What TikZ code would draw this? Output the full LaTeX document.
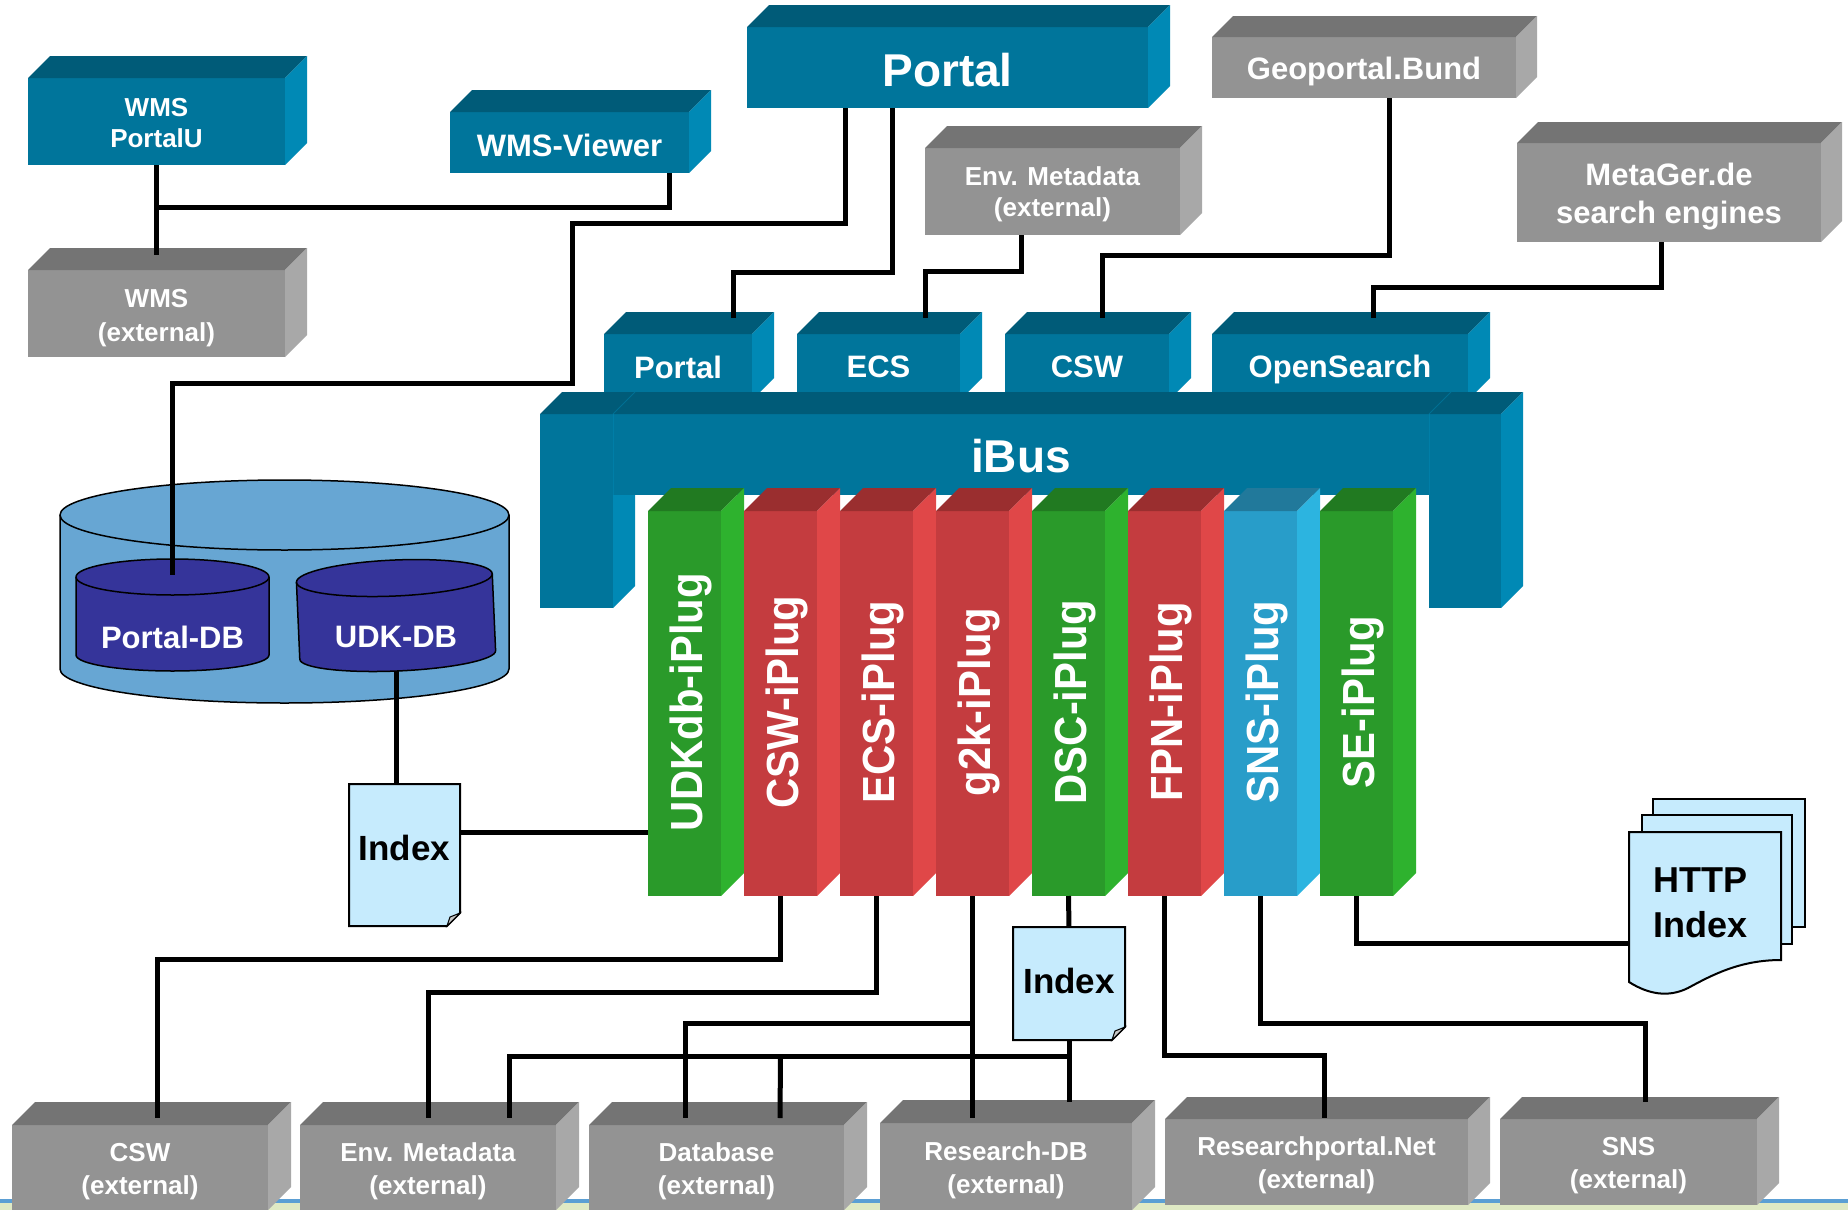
\documentclass[tikz,border=0pt]{standalone}
\usepackage{fontspec}
\setmainfont{Liberation Sans}
\usepackage{graphicx}
\usetikzlibrary{calc}
\definecolor{frontB}{HTML}{00759B}
\definecolor{topB}{HTML}{005B78}
\definecolor{sideB}{HTML}{0089B5}
\definecolor{frontG}{HTML}{939393}
\definecolor{topG}{HTML}{747474}
\definecolor{sideG}{HTML}{A8A8A8}
\definecolor{frontN}{HTML}{2A9A2A}
\definecolor{topN}{HTML}{217A21}
\definecolor{sideN}{HTML}{2EB22E}
\definecolor{frontR}{HTML}{C43C3F}
\definecolor{topR}{HTML}{9A2E2F}
\definecolor{sideR}{HTML}{E04748}
\definecolor{frontS}{HTML}{289DC9}
\definecolor{topS}{HTML}{21799B}
\definecolor{sideS}{HTML}{2CB4E0}
\definecolor{cylbig}{HTML}{67A6D3}
\definecolor{cylsmall}{HTML}{35349A}
\definecolor{docfill}{HTML}{C6EBFD}
\definecolor{stripblue}{HTML}{5B9FD4}
\definecolor{stripgreen}{HTML}{DFE9C4}
\newcommand\fsz[2]{\fontsize{#1}{#2}\selectfont}
\newcommand\faces[3]{%
  \fill[top#3] (#1.north west) -- ++(#2,-#2) -- ($(#1.north east)+(#2,-#2)$) -- (#1.north east) -- cycle;
  \fill[side#3] (#1.north east) -- ++(#2,-#2) -- ($(#1.south east)+(#2,-#2)$) -- (#1.south east) -- cycle;}
\begin{document}
\begin{tikzpicture}[x=1pt,y=-1pt,
  face/.style={anchor=north west, inner sep=0pt, outer sep=0pt},
  ftxt/.style={text=white, align=center, inner sep=0pt},
  conn/.style={line width=5pt, line join=miter, draw=black},
  docst/.style={fill=docfill, draw=black, line width=2pt, line join=miter},
  foldst/.style={fill=gray!45, draw=black, line width=1pt},
  cylst/.style={draw=black, line width=1.5pt},
  lbl/.style={text=white, font=\bfseries\fsz{31}{37}}]
\useasboundingbox (0,0) rectangle (1848,1210);
\fill[white] (0,0) rectangle (1848,1210);
% bottom strip
\fill[stripblue] (0,1199) rectangle (1848,1203);
\fill[stripgreen] (0,1203) rectangle (1848,1210);

% ---- top boxes
\node[face, fill=frontB, minimum width=257, minimum height=87] (wmsp) at (28,78) {};
\faces{wmsp}{22}{B}
\node[ftxt, font=\bfseries\fsz{26}{31}, yshift=-2pt] at (wmsp) {WMS\\PortalU};
\node[face, fill=frontG, minimum width=257, minimum height=87] (wmse) at (28,270) {};
\faces{wmse}{22}{G}
\node[ftxt, font=\bfseries\fsz{26}{34}, yshift=-4.5pt] at (wmse) {WMS\\(external)};
\node[face, fill=frontB, minimum width=239, minimum height=61] (wmsv) at (450,112) {};
\faces{wmsv}{22}{B}
\node[ftxt, font=\bfseries\fsz{31}{37}, yshift=-2.5pt] at (wmsv) {WMS-Viewer};
\node[face, fill=frontB, minimum width=401, minimum height=81] (portal) at (747,27) {};
\faces{portal}{22}{B}
\node[ftxt, font=\bfseries\fsz{46}{55}, yshift=-2.5pt] at (portal) {Portal};
\node[face, fill=frontG, minimum width=304, minimum height=61] (geo) at (1212,37) {};
\faces{geo}{21}{G}
\node[ftxt, font=\bfseries\fsz{31}{37}, yshift=-3.5pt] at (geo) {Geoportal.Bund};
\node[face, fill=frontG, minimum width=255, minimum height=87] (envtop) at (925,148) {};
\faces{envtop}{22}{G}
\node[ftxt, font=\bfseries\fsz{26}{31}, yshift=-3pt] at (envtop) {Env. Metadata\\(external)};
\node[face, fill=frontG, minimum width=304, minimum height=99] (metager) at (1517,143) {};
\faces{metager}{21}{G}
\node[ftxt, font=\bfseries\fsz{31}{38}, yshift=-4pt] at (metager) {MetaGer.de\\search engines};

% ---- interface boxes above iBus
\node[face, fill=frontB, minimum width=148, minimum height=66] (sportal) at (604,334) {};
\faces{sportal}{22}{B}
\node[ftxt, font=\bfseries\fsz{31}{37}] at (sportal) {Portal};
\node[face, fill=frontB, minimum width=163, minimum height=66] (secs) at (797,334) {};
\faces{secs}{22}{B}
\node[ftxt, font=\bfseries\fsz{31}{37}] at (secs) {ECS};
\node[face, fill=frontB, minimum width=164, minimum height=66] (scsw) at (1005,334) {};
\faces{scsw}{22}{B}
\node[ftxt, font=\bfseries\fsz{31}{37}] at (scsw) {CSW};
\node[face, fill=frontB, minimum width=256, minimum height=66] (sopen) at (1212,334) {};
\faces{sopen}{22}{B}
\node[ftxt, font=\bfseries\fsz{31}{37}, yshift=-2pt] at (sopen) {OpenSearch};

% ---- iBus
\node[face, fill=frontB, minimum width=816, minimum height=81] (ibus) at (613,414) {};
\node[face, fill=frontB, minimum width=73, minimum height=194] (legl) at (540,414) {};
\node[face, fill=frontB, minimum width=72, minimum height=194] (legr) at (1429,414) {};
\fill[topB] (legl.north west) -- ++(22,-22) -- ($(legr.north east)+(22,-22)$) -- (legr.north east) -- cycle;
\fill[sideB] (legr.north east) -- ++(22,-22) -- ($(legr.south east)+(22,-22)$) -- (legr.south east) -- cycle;
\fill[sideB] (legl.east |- ibus.south) -- ++(22,0) -- ($(legl.south east)+(22,-22)$) -- (legl.south east) -- cycle;
\draw[line width=1pt, color=sideB!45!frontB] (legl.north east) -- (legl.east |- ibus.south);
\draw[line width=1pt, color=sideB!45!topB] (legl.north east) -- ++(22,-22);
\draw[line width=1pt, color=sideB!45!frontB] (legr.north west) -- (legr.west |- ibus.south);
\draw[line width=1pt, color=sideB!45!topB] (legr.north west) -- ++(22,-22);
\node[ftxt, font=\bfseries\fsz{46}{55}, yshift=-2pt] at (ibus) {iBus};

% ---- iPlugs
\foreach \i/\c/\t in {1/N/UDKdb-iPlug, 2/R/CSW-iPlug, 3/R/ECS-iPlug, 4/R/g2k-iPlug,
                       5/N/DSC-iPlug, 6/R/FPN-iPlug, 7/S/SNS-iPlug, 8/N/SE-iPlug}{
  \pgfmathsetmacro\xo{648+96*(\i-1)}
  \node[face, fill=front\c, minimum width=73, minimum height=385] (p\i) at (\xo,511) {};
  \faces{p\i}{23}{\c}
  \node[rotate=90, anchor=base, text=white, inner sep=0pt, font=\bfseries\fsz{45}{54}]
     (t\i) at ($(p\i.north west)+(54,191)$) {\scalebox{0.93}[1]{\t}};
}

% ---- database cylinders
\filldraw[cylst, fill=cylbig] (60,515) -- (60,669)
   arc[start angle=180, end angle=360, x radius=224.5pt, y radius=34pt] -- (509,515)
   arc[start angle=0, end angle=180, x radius=224.5pt, y radius=35pt] -- cycle;
\draw[cylst] (60,515) arc[start angle=180, end angle=360, x radius=224.5pt, y radius=35pt];
\filldraw[cylst, fill=cylsmall] (76,577) -- (76,655)
   arc[start angle=180, end angle=360, x radius=96.5pt, y radius=16pt] -- (269,577)
   arc[start angle=0, end angle=180, x radius=96.5pt, y radius=18pt] -- cycle;
\draw[cylst] (76,577) arc[start angle=180, end angle=360, x radius=96.5pt, y radius=18pt];
\begin{scope}[rotate around={2.5:(396,616)}]
\filldraw[cylst, fill=cylsmall] (298,578) -- (298,655)
   arc[start angle=180, end angle=360, x radius=98pt, y radius=16pt] -- (494,578)
   arc[start angle=0, end angle=180, x radius=98pt, y radius=18pt] -- cycle;
\draw[cylst] (298,578) arc[start angle=180, end angle=360, x radius=98pt, y radius=18pt];
\end{scope}
\node[lbl] (pdb) at (172.5,637) {Portal-DB};
\node[lbl] (udk) at (396,637) {UDK-DB};
\coordinate (pdbtop) at (172.5,575);
\coordinate (udkbot) at (396,671);

% ---- index documents
\node[face, minimum width=111, minimum height=142] (idx1) at (349,784) {};
\filldraw[docst] (idx1.north west) -- (idx1.north east) -- ($(idx1.south east)+(0,-13)$)
   -- ($(idx1.south east)+(-13,0)$) -- (idx1.south west) -- cycle;
\filldraw[foldst] ($(idx1.south east)+(0,-13)$) -- ($(idx1.south east)+(-10,-9)$) -- ($(idx1.south east)+(-13,0)$) -- cycle;
\node[font=\bfseries\fsz{35}{42}] at ($(idx1.center)+(0,-7)$) {Index};

\node[face, minimum width=112, minimum height=113] (idx2) at (1013,927) {};
\filldraw[docst] (idx2.north west) -- (idx2.north east) -- ($(idx2.south east)+(0,-13)$)
   -- ($(idx2.south east)+(-13,0)$) -- (idx2.south west) -- cycle;
\filldraw[foldst] ($(idx2.south east)+(0,-13)$) -- ($(idx2.south east)+(-10,-9)$) -- ($(idx2.south east)+(-13,0)$) -- cycle;
\node[font=\bfseries\fsz{35}{42}] at ($(idx2.center)+(0,-3)$) {Index};

\filldraw[docst] (1653,799) rectangle (1805,927);
\filldraw[docst] (1642,815) rectangle (1792,944);
\node[face, minimum width=152, minimum height=128] (httpidx) at (1629,832) {};
\filldraw[docst] (httpidx.south west) -- (httpidx.north west) -- (httpidx.north east) -- (httpidx.south east)
   .. controls (1740,960) and (1712,975) .. (1688,988)
   .. controls (1668,998) and (1648,994) .. (1629,982) -- cycle;
\node[font=\bfseries\fsz{36}{45}, align=center] at ($(httpidx.center)+(-5,7)$) {HTTP\\Index};

% ---- bottom external boxes
\node[face, fill=frontG, minimum width=256, minimum height=85] (bcsw) at (12,1125) {};
\faces{bcsw}{23}{G}
\node[ftxt, font=\bfseries\fsz{26}{33}, yshift=-4pt] at (bcsw) {CSW\\(external)};
\node[face, fill=frontG, minimum width=256, minimum height=85] (benv) at (300,1125) {};
\faces{benv}{23}{G}
\node[ftxt, font=\bfseries\fsz{26}{33}, yshift=-4pt] at (benv) {Env. Metadata\\(external)};
\node[face, fill=frontG, minimum width=255, minimum height=85] (bdb) at (589,1125) {};
\faces{bdb}{23}{G}
\node[ftxt, font=\bfseries\fsz{26}{33}, yshift=-4pt] at (bdb) {Database\\(external)};
\node[face, fill=frontG, minimum width=252, minimum height=87] (brdb) at (880,1123) {};
\faces{brdb}{23}{G}
\node[ftxt, font=\bfseries\fsz{26}{33}, yshift=-4pt] at (brdb) {Research-DB\\(external)};
\node[face, fill=frontG, minimum width=303, minimum height=86] (brp) at (1165,1119) {};
\faces{brp}{22}{G}
\node[ftxt, font=\bfseries\fsz{26}{33}, yshift=-3.5pt] at (brp) {Researchportal.Net\\(external)};
\node[face, fill=frontG, minimum width=257, minimum height=86] (bsns) at (1500,1119) {};
\faces{bsns}{22}{G}
\node[ftxt, font=\bfseries\fsz{26}{33}, yshift=-3.5pt] at (bsns) {SNS\\(external)};

% ---- connectors
\draw[conn] (wmsp.south) -- ($(wmse.north)+(0,-15)$);
\draw[conn] (wmsp.south) ++(0,42) -| ($(wmsv.south east)+(-20,0)$);
\draw[conn] ($(portal.south west)+(98,0)$) |- (572,223) |- (172.5,383) -- (pdbtop);
\draw[conn] ($(portal.south west)+(145,0)$) |- (733,272) -- ($(sportal.north west)+(129,-16)$);
\draw[conn] ($(envtop.south west)+(96,0)$) |- (925,271) -- ($(secs.north west)+(128,-16)$);
\draw[conn] ($(geo.south west)+(177,0)$) |- (1102,255) -- ($(scsw.north west)+(97,-16)$);
\draw[conn] ($(metager.south west)+(144,0)$) |- (1373,287) -- ($(sopen.north west)+(161,-16)$);
\draw[conn] (udkbot) -- (udkbot |- idx1.north);
\draw[conn] ($(idx1.north east)+(0,48)$) coordinate (c9) -- (c9 -| p1.west);
\draw[conn] (p2.south) |- (157,959) -- ($(bcsw.north west)+(145,-7)$);
\draw[conn] (p3.south) |- (428,992) -- ($(benv.north)+(0,-7)$);
\draw[conn] (p4.south) -- ($(p4.south |- brdb.north)+(0,-5)$);
\draw[conn] ($(p4.south)+(0,127)$) -| ($(bdb.north west)+(96,-7)$);
\draw[conn] (p5.south) -- (idx2.north);
\draw[conn] (idx2.south) -- ($(idx2.south |- brdb.north)+(0,-21)$);
\draw[conn] ($(idx2.south)+(0,16)$) -| ($(benv.north west)+(209,-7)$);
\draw[conn] ($(p2.south |- idx2.south)+(0,16)$) -- ($(bdb.north west)+(191,-7)$);
\draw[conn] (p6.south) |- (1324,1055) -- ($(brp.north west)+(159,-1)$);
\draw[conn] (p7.south) |- (1645,1023) -- ($(bsns.north west)+(145,-17)$);
\draw[conn] (p8.south) |- ($(httpidx.north west)+(0,111)$);
\end{tikzpicture}
\end{document}
